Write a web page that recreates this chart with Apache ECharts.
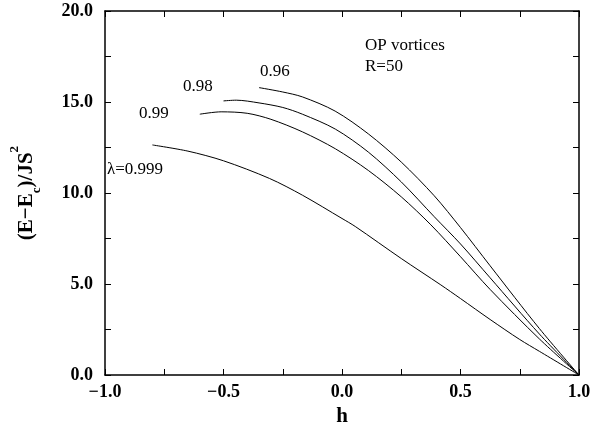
<!DOCTYPE html>
<html>
<head>
<meta charset="utf-8">
<script src="https://cdn.jsdelivr.net/npm/echarts@6/dist/echarts.min.js"></script>
<style>
  html, body { margin: 0; padding: 0; background: #fff; }
  #main { width: 608px; height: 432px; }
</style>
</head>
<body>
<div id="main"></div>
<script>
// values, [h, (E-Ec)/JS^2]
const lam0999 = [[-0.8, 12.64], [-0.65, 12.3], [-0.5, 11.77], [-0.306, 10.8], [-0.167, 9.88], [0, 8.6], [0.056, 8.16], [0.25, 6.4], [0.417, 4.95], [0.5, 4.2], [0.625, 3.05], [0.75, 1.95], [0.833, 1.3], [1.0, 0]]
const lam099 = [[-0.6, 14.33], [-0.51, 14.46], [-0.4, 14.38], [-0.3, 14.05], [-0.167, 13.36], [-0.028, 12.43], [0.111, 11.24], [0.25, 9.79], [0.375, 8.25], [0.5, 6.5], [0.625, 4.7], [0.833, 1.98], [1.0, 0]]
const lam098 = [[-0.5, 15.06], [-0.446, 15.1], [-0.35, 14.95], [-0.25, 14.7], [-0.167, 14.33], [-0.028, 13.51], [0.111, 12.25], [0.25, 10.61], [0.389, 8.7], [0.5, 7.2], [0.625, 5.34], [0.833, 2.25], [1.0, 0]]
const lam096 = [[-0.35, 15.79], [-0.25, 15.55], [-0.167, 15.28], [-0.029, 14.5], [0.111, 13.25], [0.25, 11.7], [0.389, 9.85], [0.5, 8.1], [0.625, 6.0], [0.833, 2.55], [1.0, 0]]
const xTicks = [-1.0, -0.5, 0.0, 0.5, 1.0]
const yTicks = [0.0, 5.0, 10.0, 15.0, 20.0]
const curveNames = ['λ=0.999', '0.99', '0.98', '0.96']

const font = '"Liberation Serif", "DejaVu Serif", serif'
const fmt = v => (v < 0 ? '\u2212' : '') + Math.abs(v).toFixed(1)

function line(name, data) {
  return {
    name: name,
    type: 'line',
    data: data,
    smooth: 0.3,
    showSymbol: false,
    lineStyle: { color: '#000', width: 1 },
    silent: true
  }
}

function axisBase(show, margin) {
  return {
    axisLine: { show: true, onZero: false, lineStyle: { color: '#000', width: 1.5 } },
    axisTick: { show: true, inside: true, length: 6, lineStyle: { color: '#000', width: 1 } },
    minorTick: { show: true, splitNumber: 2, length: 6, lineStyle: { color: '#000', width: 1 } },
    splitLine: { show: false },
    axisLabel: {
      show: show,
      margin: margin,
      fontFamily: font,
      fontSize: 18,
      fontWeight: 'bold',
      color: '#000',
      formatter: fmt
    }
  }
}

const chart = echarts.init(document.getElementById('main'))
chart.setOption({
  animation: false,
  backgroundColor: '#fff',
  grid: { left: 100, right: 29, top: 11, bottom: 55 },
  xAxis: [
    Object.assign(axisBase(true, 8), {
      type: 'value', min: xTicks[0], max: xTicks[xTicks.length - 1], interval: 0.5,
      name: 'h', nameLocation: 'middle', nameGap: 31,
      nameTextStyle: { fontFamily: font, fontSize: 21, fontWeight: 'bold', color: '#000' }
    }),
    Object.assign(axisBase(false, 8), {
      type: 'value', position: 'top', min: xTicks[0], max: xTicks[xTicks.length - 1], interval: 0.5
    })
  ],
  yAxis: [
    Object.assign(axisBase(true, 12), {
      type: 'value', min: yTicks[0], max: yTicks[yTicks.length - 1], interval: 5,
      name: '(E\u2212E{sub|c})/JS{sup|2}', nameLocation: 'middle', nameGap: 68, nameRotate: 90,
      nameTextStyle: {
        fontFamily: font, fontSize: 21, fontWeight: 'bold', color: '#000',
        rich: {
          sub: { fontFamily: font, fontSize: 13, fontWeight: 'bold', color: '#000', verticalAlign: 'bottom', padding: [0, 0, -6, 0] },
          sup: { fontFamily: font, fontSize: 13, fontWeight: 'bold', color: '#000', verticalAlign: 'top', padding: [-8, 0, 0, 0] }
        }
      }
    }),
    Object.assign(axisBase(false, 12), {
      type: 'value', position: 'right', min: yTicks[0], max: yTicks[yTicks.length - 1], interval: 5
    })
  ],
  series: [
    line(curveNames[0], lam0999),
    line(curveNames[1], lam099),
    line(curveNames[2], lam098),
    line(curveNames[3], lam096)
  ],
  graphic: [
    { type: 'text', left: 107, top: 161, style: { text: curveNames[0], font: '17px ' + font, fill: '#000' } },
    { type: 'text', left: 139, top: 105, style: { text: curveNames[1], font: '17px ' + font, fill: '#000' } },
    { type: 'text', left: 183, top: 78, style: { text: curveNames[2], font: '17px ' + font, fill: '#000' } },
    { type: 'text', left: 260, top: 63, style: { text: curveNames[3], font: '17px ' + font, fill: '#000' } },
    { type: 'text', left: 365, top: 37, style: { text: 'OP vortices', font: '17px ' + font, fill: '#000' } },
    { type: 'text', left: 365, top: 58, style: { text: 'R=50', font: '17px ' + font, fill: '#000' } }
  ]
})
</script>
</body>
</html>
